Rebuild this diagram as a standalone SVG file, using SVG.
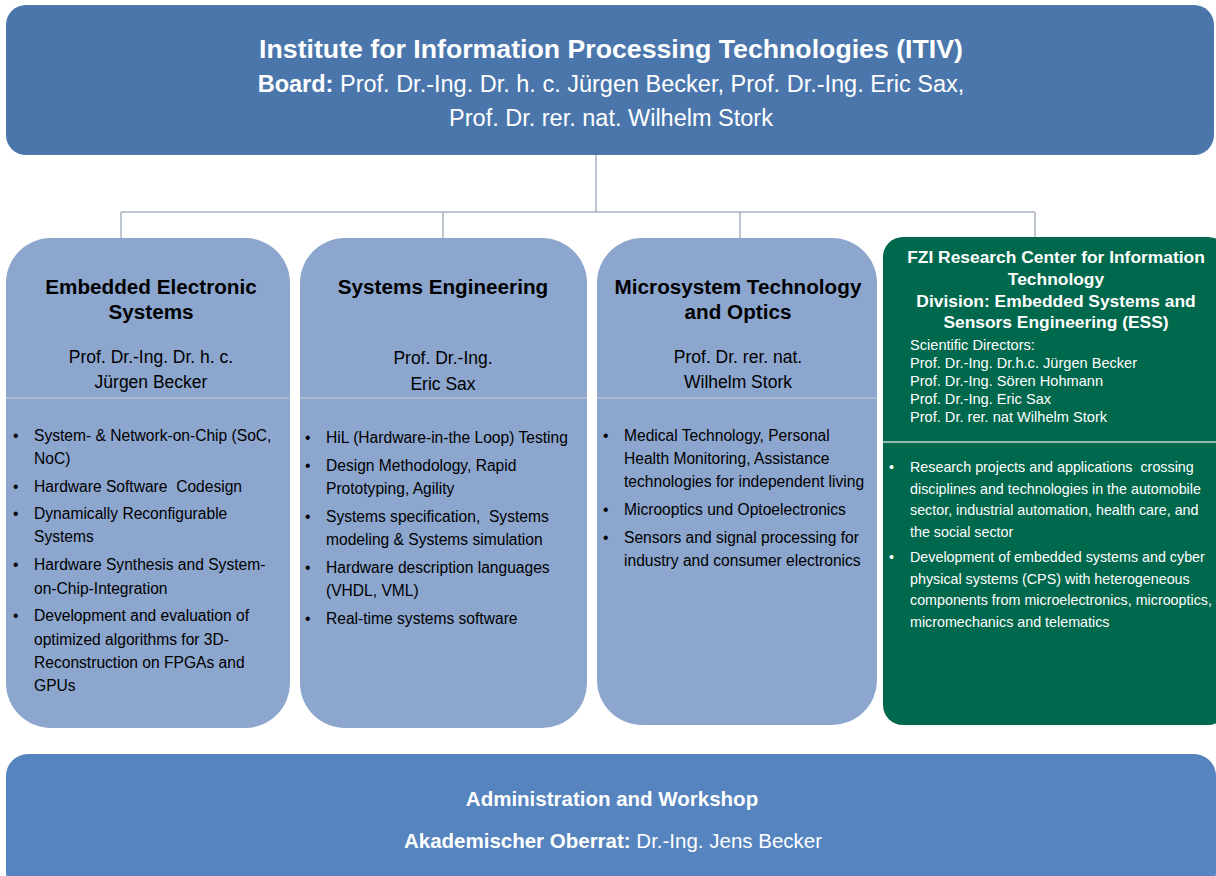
<svg xmlns="http://www.w3.org/2000/svg" width="1216" height="876" viewBox="0 0 1216 876">
  <style>
    text { font-family: "Liberation Sans", Arial, sans-serif; }
    .head { fill: #4A76AC; }
    .unit { fill: #8CA6CE; }
    .fzi { fill: #00684C; }
    .admin { fill: #5584BF; }
    .wt { fill: #FFFFFF; }
    .bk { fill: #000000; }
    .b { font-weight: bold; }
    .c { text-anchor: middle; }
    .title { font-size: 20.7px; font-weight: bold; }
    .prof { font-size: 17.5px; }
    .item { font-size: 15.6px; }
    .fzititle { font-size: 17.4px; font-weight: bold; }
    .dir { font-size: 14.6px; }
    .fziitem { font-size: 14.3px; }
    .sep { stroke: #B7C3D1; stroke-width: 1.5; fill: none; }
    .sepg { stroke: #C9D2D0; stroke-width: 1.5; fill: none; }
    .conn { stroke: #A9B5C1; stroke-width: 1.5; fill: none; }
  </style>

  <rect width="1216" height="876" fill="#FFFFFF"/>

  <!-- connectors -->
  <g id="connectors">
    <path class="conn" d="M596 155 V212 M121 212 H1035 M121 212 V238 M443 212 V238 M740 212 V238 M1035 212 V237"/>
  </g>

  <!-- institute head -->
  <g id="institute">
    <rect class="head" x="6" y="5" width="1208" height="150" rx="20"/>
    <text class="wt b c" x="611" y="58" font-size="26.7">Institute for Information Processing Technologies (ITIV)</text>
    <text class="wt c" x="611" y="92" font-size="23.5"><tspan font-weight="bold">Board:</tspan> Prof. Dr.-Ing. Dr. h. c. Jürgen Becker, Prof. Dr.-Ing. Eric Sax,</text>
    <text class="wt c" x="611" y="126" font-size="23.5">Prof. Dr. rer. nat. Wilhelm Stork</text>
  </g>

  <!-- Embedded Electronic Systems -->
  <g id="ees">
    <rect class="unit" x="6" y="238" width="284" height="490" rx="45"/>
    <line class="sep" x1="6" y1="398" x2="289" y2="398"/>
    <text class="bk title c" x="151" y="294">Embedded Electronic</text>
    <text class="bk title c" x="151" y="319">Systems</text>
    <text class="bk prof c" x="151" y="363">Prof. Dr.-Ing. Dr. h. c.</text>
    <text class="bk prof c" x="151" y="388">Jürgen Becker</text>
    <g class="bk item">
      <text x="13" y="441">•</text><text x="34" y="441">System- &amp; Network-on-Chip (SoC,</text>
      <text x="34" y="464">NoC)</text>
      <text x="13" y="492">•</text><text x="34" y="492">Hardware Software&#160; Codesign</text>
      <text x="13" y="519">•</text><text x="34" y="519">Dynamically Reconfigurable</text>
      <text x="34" y="542">Systems</text>
      <text x="13" y="570">•</text><text x="34" y="570">Hardware Synthesis and System-</text>
      <text x="34" y="594">on-Chip-Integration</text>
      <text x="13" y="621">•</text><text x="34" y="621">Development and evaluation of</text>
      <text x="34" y="645">optimized algorithms for 3D-</text>
      <text x="34" y="668">Reconstruction on FPGAs and</text>
      <text x="34" y="691">GPUs</text>
    </g>
  </g>

  <!-- Systems Engineering -->
  <g id="se">
    <rect class="unit" x="300" y="238" width="287" height="490" rx="45"/>
    <line class="sep" x1="300" y1="398" x2="587" y2="398"/>
    <text class="bk title c" x="443" y="294">Systems Engineering</text>
    <text class="bk prof c" x="443" y="364">Prof. Dr.-Ing.</text>
    <text class="bk prof c" x="443" y="390">Eric Sax</text>
    <g class="bk item">
      <text x="305" y="443">•</text><text x="326" y="443">HiL (Hardware-in-the Loop) Testing</text>
      <text x="305" y="471">•</text><text x="326" y="471">Design Methodology, Rapid</text>
      <text x="326" y="494">Prototyping, Agility</text>
      <text x="305" y="522">•</text><text x="326" y="522">Systems specification,&#160; Systems</text>
      <text x="326" y="545">modeling &amp; Systems simulation</text>
      <text x="305" y="573">•</text><text x="326" y="573">Hardware description languages</text>
      <text x="326" y="596">(VHDL, VML)</text>
      <text x="305" y="624">•</text><text x="326" y="624">Real-time systems software</text>
    </g>
  </g>

  <!-- Microsystem Technology and Optics -->
  <g id="mto">
    <rect class="unit" x="597" y="238" width="280" height="487" rx="45"/>
    <line class="sep" x1="597" y1="398" x2="877" y2="398"/>
    <text class="bk title c" x="738" y="294">Microsystem Technology</text>
    <text class="bk title c" x="738" y="319">and Optics</text>
    <text class="bk prof c" x="738" y="363">Prof. Dr. rer. nat.</text>
    <text class="bk prof c" x="738" y="388">Wilhelm Stork</text>
    <g class="bk item">
      <text x="603" y="441">•</text><text x="624" y="441">Medical Technology, Personal</text>
      <text x="624" y="464">Health Monitoring, Assistance</text>
      <text x="624" y="487">technologies for independent living</text>
      <text x="603" y="515">•</text><text x="624" y="515">Microoptics und Optoelectronics</text>
      <text x="603" y="543">•</text><text x="624" y="543">Sensors and signal processing for</text>
      <text x="624" y="566">industry and consumer electronics</text>
    </g>
  </g>

  <!-- FZI Research Center -->
  <g id="fzi">
    <rect class="fzi" x="883" y="237" width="345" height="488" rx="20"/>
    <line class="sepg" x1="883" y1="442" x2="1216" y2="442"/>
    <text class="wt fzititle c" x="1056" y="263">FZI Research Center for Information</text>
    <text class="wt fzititle c" x="1056" y="285">Technology</text>
    <text class="wt fzititle c" x="1056" y="307">Division: Embedded Systems and</text>
    <text class="wt fzititle c" x="1056" y="328">Sensors Engineering (ESS)</text>
    <g class="wt dir">
      <text x="910" y="350">Scientific Directors:</text>
      <text x="910" y="368">Prof. Dr.-Ing. Dr.h.c. Jürgen Becker</text>
      <text x="910" y="386">Prof. Dr.-Ing. Sören Hohmann</text>
      <text x="910" y="404">Prof. Dr.-Ing. Eric Sax</text>
      <text x="910" y="422">Prof. Dr. rer. nat Wilhelm Stork</text>
    </g>
    <g class="wt fziitem">
      <text x="889" y="472">•</text><text x="910" y="472">Research projects and applications&#160; crossing</text>
      <text x="910" y="494">disciplines and technologies in the automobile</text>
      <text x="910" y="515">sector, industrial automation, health care, and</text>
      <text x="910" y="537">the social sector</text>
      <text x="889" y="562">•</text><text x="910" y="562">Development of embedded systems and cyber</text>
      <text x="910" y="584">physical systems (CPS) with heterogeneous</text>
      <text x="910" y="605">components from microelectronics, microoptics,</text>
      <text x="910" y="627">micromechanics and telematics</text>
    </g>
  </g>

  <!-- Administration -->
  <g id="admin">
    <rect class="admin" x="6" y="754" width="1210" height="140" rx="22"/>
    <text class="wt b c" x="612" y="806" font-size="20.5">Administration and Workshop</text>
    <text class="wt c" x="613" y="848" font-size="20.5"><tspan font-weight="bold">Akademischer Oberrat:</tspan> Dr.-Ing. Jens Becker</text>
  </g>
</svg>
